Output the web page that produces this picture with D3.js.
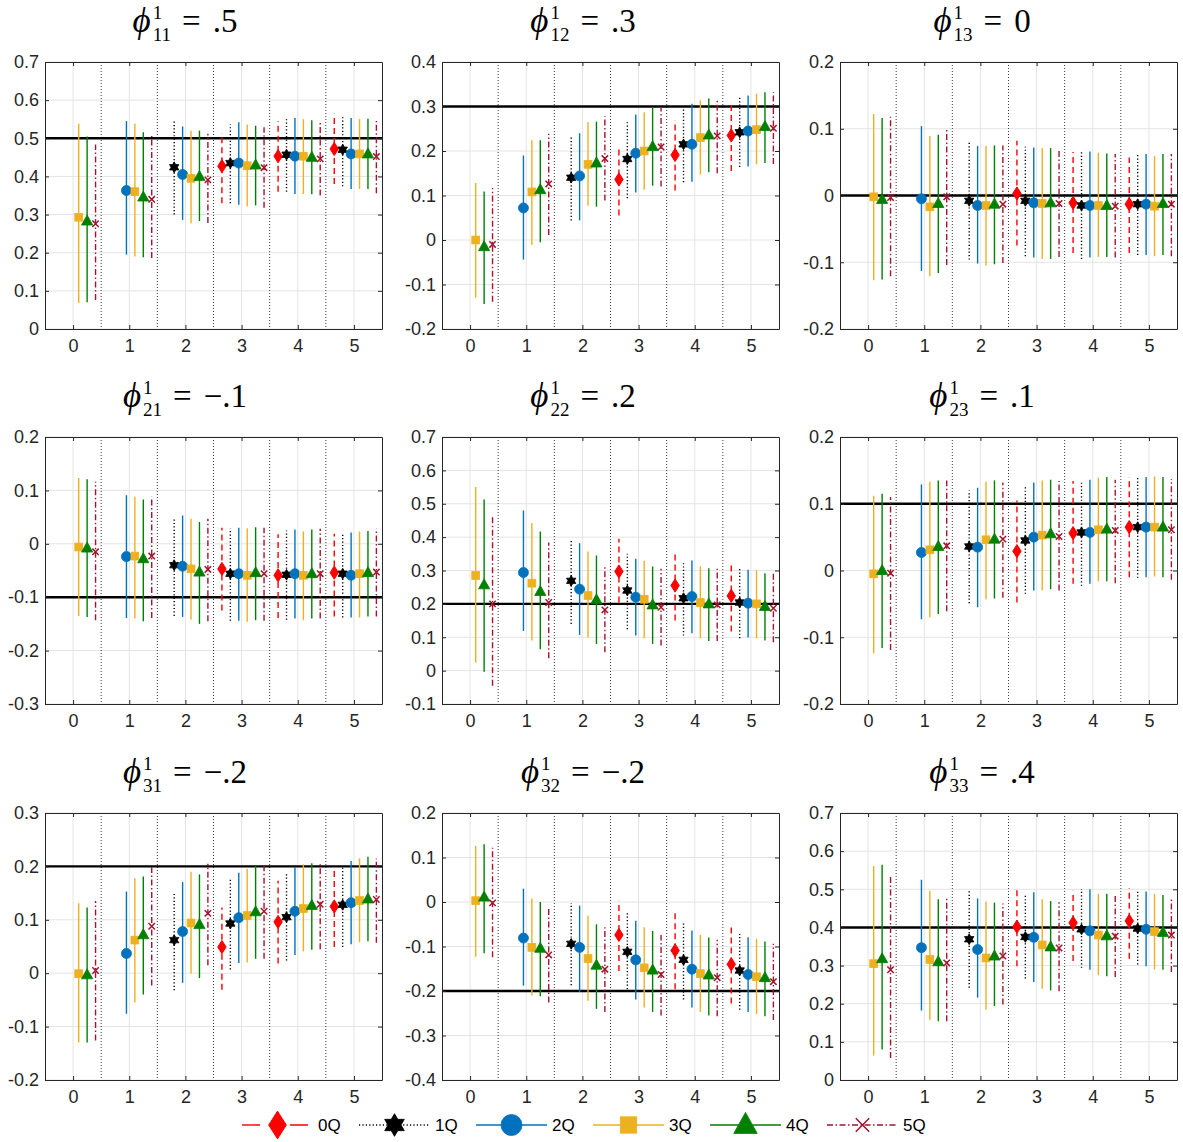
<!DOCTYPE html>
<html>
<head>
<meta charset="utf-8">
<script src="https://cdn.jsdelivr.net/npm/d3@7"></script>
<style>
body{margin:0;background:#ffffff;}
</style>
</head>
<body>
<script>
// series and horizons
var seriesNames=['0Q','1Q','2Q','3Q','4Q','5Q'];
var horizons=[0,1,2,3,4,5];

// panel titles / reference lines / y limits
var titleSubs=['11','12','13','21','22','23','31','32','33'];
var titleVals=['.5','.3','0','\u2212.1','.2','.1','\u2212.2','\u2212.2','.4'];
// black reference line as drawn in each panel (panel 31 draws it at +.2)
var trueVals=[0.5,0.3,0,-0.1,0.2,0.1,0.2,-0.2,0.4];
var yLimits=[[0,0.7],[-0.2,0.4],[-0.2,0.2],[-0.3,0.2],[-0.1,0.7],[-0.2,0.2],[-0.2,0.3],[-0.4,0.2],[0,0.7]];

// rows: [horizon, series, estimate, lower, upper]
var p11=[
[0,3,.293,.068,.538],[0,4,.283,.07,.505],[0,5,.276,.076,.484],
[1,2,.363,.195,.545],[1,3,.36,.19,.538],[1,4,.346,.188,.516],[1,5,.34,.186,.506],
[2,1,.424,.30,.545],[2,2,.405,.286,.531],[2,3,.395,.277,.52],[2,4,.40,.283,.52],[2,5,.391,.278,.512],
[3,0,.427,.33,.514],[3,1,.435,.33,.536],[3,2,.435,.326,.542],[3,3,.428,.322,.536],[3,4,.43,.324,.533],[3,5,.423,.318,.529],
[4,0,.453,.36,.545],[4,1,.457,.36,.55],[4,2,.453,.354,.553],[4,3,.453,.354,.55],[4,4,.45,.353,.547],[4,5,.446,.35,.542],
[5,0,.472,.38,.564],[5,1,.47,.374,.557],[5,2,.459,.367,.553],[5,3,.459,.367,.551],[5,4,.459,.367,.551],[5,5,.452,.356,.545]
];
var p12=[
[0,3,0,-.129,.128],[0,4,-.015,-.144,.109],[0,5,-.01,-.139,.117],
[1,2,.072,-.044,.19],[1,3,.108,-.011,.224],[1,4,.113,-.005,.224],[1,5,.126,.011,.239],
[2,1,.14,.044,.235],[2,2,.144,.044,.24],[2,3,.17,.077,.265],[2,4,.173,.075,.266],[2,5,.183,.089,.278],
[3,0,.136,.055,.212],[3,1,.182,.094,.265],[3,2,.195,.107,.282],[3,3,.2,.113,.287],[3,4,.21,.122,.298],[3,5,.209,.12,.298],
[4,0,.191,.111,.269],[4,1,.215,.13,.295],[4,2,.215,.131,.306],[4,3,.23,.147,.314],[4,4,.236,.152,.318],[4,5,.234,.15,.314],
[5,0,.235,.155,.312],[5,1,.242,.164,.323],[5,2,.245,.165,.325],[5,3,.248,.17,.329],[5,4,.255,.173,.332],[5,5,.251,.171,.332]
];
var p13=[
[0,3,-.002,-.127,.122],[0,4,-.006,-.126,.116],[0,5,-.003,-.121,.118],
[1,2,-.005,-.113,.104],[1,3,-.017,-.121,.089],[1,4,-.012,-.116,.091],[1,5,-.002,-.104,.098],
[2,1,-.008,-.096,.082],[2,2,-.015,-.102,.074],[2,3,-.015,-.105,.074],[2,4,-.013,-.103,.075],[2,5,-.013,-.101,.075],
[3,0,.003,-.075,.082],[3,1,-.008,-.091,.073],[3,2,-.011,-.093,.072],[3,3,-.012,-.095,.071],[3,4,-.011,-.095,.071],[3,5,-.012,-.092,.07],
[4,0,-.011,-.086,.065],[4,1,-.015,-.095,.065],[4,2,-.015,-.093,.066],[4,3,-.015,-.092,.064],[4,4,-.015,-.092,.063],[4,5,-.016,-.093,.062],
[5,0,-.013,-.086,.057],[5,1,-.013,-.089,.062],[5,2,-.013,-.089,.062],[5,3,-.016,-.091,.059],[5,4,-.012,-.089,.062],[5,5,-.013,-.091,.062]
];
var p21=[
[0,3,-.006,-.135,.123],[0,4,-.008,-.137,.121],[0,5,-.015,-.143,.116],
[1,2,-.024,-.139,.091],[1,3,-.023,-.14,.088],[1,4,-.028,-.145,.083],[1,5,-.023,-.139,.088],
[2,1,-.04,-.135,.048],[2,2,-.042,-.137,.053],[2,3,-.047,-.142,.047],[2,4,-.053,-.15,.041],[2,5,-.048,-.145,.047],
[3,0,-.047,-.125,.03],[3,1,-.056,-.144,.028],[3,2,-.056,-.144,.03],[3,3,-.059,-.146,.029],[3,4,-.054,-.143,.031],[3,5,-.056,-.144,.03],
[4,0,-.059,-.139,.018],[4,1,-.058,-.142,.025],[4,2,-.056,-.14,.027],[4,3,-.059,-.143,.023],[4,4,-.056,-.14,.027],[4,5,-.056,-.14,.028],
[5,0,-.054,-.136,.019],[5,1,-.056,-.138,.021],[5,2,-.059,-.138,.021],[5,3,-.056,-.138,.023],[5,4,-.054,-.136,.024],[5,5,-.053,-.136,.028]
];
var p22=[
[0,3,.285,.024,.55],[0,4,.257,-.003,.513],[0,5,.2,-.045,.467],
[1,2,.294,.119,.48],[1,3,.262,.09,.442],[1,4,.237,.064,.417],[1,5,.204,.037,.384],
[2,1,.269,.14,.394],[2,2,.244,.107,.382],[2,3,.225,.099,.357],[2,4,.212,.08,.345],[2,5,.182,.055,.317],
[3,0,.297,.204,.395],[3,1,.24,.124,.35],[3,2,.22,.105,.335],[3,3,.214,.097,.329],[3,4,.197,.08,.312],[3,5,.19,.075,.305],
[4,0,.255,.15,.355],[4,1,.217,.105,.322],[4,2,.222,.112,.33],[4,3,.204,.097,.312],[4,4,.2,.089,.307],[4,5,.197,.089,.305],
[5,0,.224,.117,.322],[5,1,.204,.097,.307],[5,2,.202,.099,.302],[5,3,.2,.097,.3],[5,4,.192,.09,.292],[5,5,.187,.085,.29]
];
var p23=[
[0,3,-.005,-.124,.112],[0,4,0,-.116,.115],[0,5,-.004,-.119,.11],
[1,2,.027,-.073,.129],[1,3,.031,-.07,.133],[1,4,.036,-.065,.135],[1,5,.037,-.061,.135],
[2,1,.036,-.049,.12],[2,2,.035,-.055,.124],[2,3,.046,-.043,.133],[2,4,.047,-.042,.135],[2,5,.047,-.041,.132],
[3,0,.029,-.048,.105],[3,1,.045,-.035,.125],[3,2,.05,-.03,.132],[3,3,.053,-.03,.135],[3,4,.055,-.028,.136],[3,5,.051,-.03,.134],
[4,0,.056,-.02,.134],[4,1,.057,-.023,.135],[4,2,.057,-.02,.136],[4,3,.061,-.016,.139],[4,4,.062,-.016,.14],[4,5,.06,-.019,.136],
[5,0,.065,-.01,.14],[5,1,.065,-.011,.14],[5,2,.065,-.01,.14],[5,3,.065,-.009,.141],[5,4,.065,-.01,.14],[5,5,.061,-.014,.137]
];
var p31=[
[0,3,-.001,-.13,.131],[0,4,-.003,-.13,.123],[0,5,.005,-.126,.135],
[1,2,.037,-.076,.153],[1,3,.062,-.055,.178],[1,4,.072,-.04,.181],[1,5,.088,-.023,.2],
[2,1,.062,-.032,.151],[2,2,.078,-.018,.171],[2,3,.094,-.001,.19],[2,4,.091,-.009,.185],[2,5,.112,.015,.205],
[3,0,.049,-.031,.123],[3,1,.093,.007,.177],[3,2,.104,.019,.188],[3,3,.108,.02,.195],[3,4,.115,.027,.201],[3,5,.116,.027,.201],
[4,0,.096,.018,.173],[4,1,.105,.024,.187],[4,2,.116,.034,.199],[4,3,.121,.041,.204],[4,4,.127,.044,.206],[4,5,.129,.045,.206],
[5,0,.125,.049,.199],[5,1,.128,.049,.198],[5,2,.132,.054,.21],[5,3,.136,.058,.215],[5,4,.139,.06,.218],[5,5,.138,.057,.215]
];
var p32=[
[0,3,.003,-.123,.126],[0,4,.011,-.115,.13],[0,5,-.002,-.124,.122],
[1,2,-.081,-.188,.03],[1,3,-.102,-.21,.008],[1,4,-.104,-.212,0],[1,5,-.119,-.226,-.016],
[2,1,-.094,-.187,-.002],[2,2,-.102,-.202,-.008],[2,3,-.127,-.222,-.031],[2,4,-.142,-.24,-.05],[2,5,-.151,-.247,-.057],
[3,0,-.074,-.155,.003],[3,1,-.112,-.196,-.023],[3,2,-.13,-.219,-.042],[3,3,-.148,-.237,-.057],[3,4,-.153,-.247,-.065],[3,5,-.163,-.255,-.074],
[4,0,-.109,-.196,-.025],[4,1,-.13,-.219,-.044],[4,2,-.151,-.237,-.064],[4,3,-.161,-.247,-.074],[4,4,-.164,-.255,-.08],[4,5,-.17,-.257,-.085],
[5,0,-.14,-.228,-.057],[5,1,-.154,-.242,-.072],[5,2,-.163,-.247,-.079],[5,3,-.168,-.252,-.083],[5,4,-.17,-.257,-.089],[5,5,-.179,-.265,-.094]
];
var p33=[
[0,3,.305,.064,.561],[0,4,.318,.08,.564],[0,5,.289,.058,.533],
[1,2,.347,.182,.525],[1,3,.316,.158,.496],[1,4,.31,.154,.474],[1,5,.307,.154,.478],
[2,1,.369,.242,.498],[2,2,.342,.216,.476],[2,3,.32,.184,.468],[2,4,.325,.194,.465],[2,5,.325,.198,.463],
[3,0,.402,.298,.501],[3,1,.375,.266,.488],[3,2,.374,.257,.492],[3,3,.354,.239,.474],[3,4,.349,.235,.469],[3,5,.346,.233,.466],
[4,0,.412,.312,.496],[4,1,.395,.294,.5],[4,2,.391,.289,.5],[4,3,.38,.275,.488],[4,4,.378,.272,.488],[4,5,.377,.27,.485],
[5,0,.417,.318,.503],[5,1,.397,.303,.494],[5,2,.395,.298,.494],[5,3,.389,.29,.488],[5,4,.387,.289,.485],[5,5,.38,.283,.475]
];
var panelData=[p11,p12,p13,p21,p22,p23,p31,p32,p33];

// styles
var colors=['#ff0000','#000000','#0072bd','#edb120','#008000','#a2142f'];
var dashes=['6,4','1.2,2.2',null,null,null,'6,2.5,1.5,2.5'];
var markers=['diamond','hexagram','circle','square','triangle','cross'];
var offsets=[-0.35,-0.2,-0.05,0.1,0.25,0.4];

var W=1183,H=1142;
var colLeft=[45,442,840];
var rowTop=[62,437,813];
var plotW=337,plotH=267;
var titleCx=[185,583,982];
var tickFont='"Liberation Sans",Arial,Helvetica,sans-serif';
var titleFont='"Liberation Serif","DejaVu Serif",serif';
var axisColor='#262626';

var svg=d3.select('body').append('svg')
    .attr('width',W)
    .attr('height',H)
    .style('display','block');

function hexagramPath(r){
    var pts=[];
    for(var k=0;k<12;k++){
        var a=-Math.PI/2+k*Math.PI/6;
        var rr=(k%2==0)?r:r/Math.sqrt(3);
        pts.push([rr*Math.cos(a),rr*Math.sin(a)]);
    }
    return 'M'+pts.map(function(p){return p[0].toFixed(2)+','+p[1].toFixed(2)}).join('L')+'Z';
}

// draw one marker at cx,cy; big=true for legend sizes
function drawMarker(g,type,color,cx,cy,big){
    var s=big?2.1:1;
    if(type=='diamond'){
        var w=4.2*s,h=6.6*s;
        g.append('path').attr('d','M'+cx+','+(cy-h)+'L'+(cx+w)+','+cy+'L'+cx+','+(cy+h)+'L'+(cx-w)+','+cy+'Z')
            .attr('fill',color).attr('stroke',color).attr('stroke-width',1);
    }
    else if(type=='hexagram'){
        g.append('path').attr('d',hexagramPath(5.4*s)).attr('transform','translate('+cx+','+cy+')')
            .attr('fill',color).attr('stroke',color).attr('stroke-width',0.8);
    }
    else if(type=='circle'){
        g.append('circle').attr('cx',cx).attr('cy',cy).attr('r',5*s)
            .attr('fill',color).attr('stroke',color).attr('stroke-width',0.8);
    }
    else if(type=='square'){
        var a=3.9*s;
        g.append('rect').attr('x',cx-a).attr('y',cy-a).attr('width',2*a).attr('height',2*a)
            .attr('fill',color).attr('stroke',color).attr('stroke-width',0.8);
    }
    else if(type=='triangle'){
        var tw=5.6*s,th=10*s;
        g.append('path').attr('d','M'+cx+','+(cy-th*0.6)+'L'+(cx+tw)+','+(cy+th*0.4)+'L'+(cx-tw)+','+(cy+th*0.4)+'Z')
            .attr('fill',color).attr('stroke',color).attr('stroke-width',0.8);
    }
    else{
        var c=3.2*s;
        g.append('path').attr('d','M'+(cx-c)+','+(cy-c)+'L'+(cx+c)+','+(cy+c)+'M'+(cx-c)+','+(cy+c)+'L'+(cx+c)+','+(cy-c))
            .attr('fill','none').attr('stroke',color).attr('stroke-width',1.5);
    }
}

function fmtTick(v){
    if(Math.abs(v)<1e-9) return '0';
    return d3.format('.1f')(v).replace('\u2212','-');
}

// title like  phi^1_{ij} = val , pieces placed one after another then centred
function drawTitle(i,cx,top){
    var tg=svg.append('g').attr('class','title');
    var base=top-30;
    var phi=tg.append('text').attr('x',0).attr('y',base)
        .style('font-family',titleFont).style('font-size','35px').style('font-style','italic')
        .text('\u03d5');
    var xs=phi.node().getComputedTextLength()+2;
    tg.append('text').attr('x',xs).attr('y',base-13)
        .style('font-family',titleFont).style('font-size','19px')
        .text('1');
    var sub=tg.append('text').attr('x',xs).attr('y',base+9)
        .style('font-family',titleFont).style('font-size','19px')
        .text(titleSubs[i]);
    var xe=xs+sub.node().getComputedTextLength()+11;
    var eq=tg.append('text').attr('x',xe).attr('y',base)
        .style('font-family',titleFont).style('font-size','33px')
        .text('=');
    var xv=xe+eq.node().getComputedTextLength()+12;
    tg.append('text').attr('x',xv).attr('y',base)
        .style('font-family',titleFont).style('font-size','33px')
        .text(titleVals[i]);
    var bb=tg.node().getBBox();
    tg.attr('transform','translate('+(cx-bb.x-bb.width/2)+',0)');
}

panelData.forEach(function(rows,i){
    var c=i%3,r=Math.floor(i/3);
    var g=svg.append('g').attr('transform','translate('+colLeft[c]+','+rowTop[r]+')');
    var x=d3.scaleLinear().domain([-0.5,5.5]).range([0,plotW]);
    var y=d3.scaleLinear().domain(yLimits[i]).range([plotH,0]);
    var lo=Math.round(yLimits[i][0]*10),hi=Math.round(yLimits[i][1]*10);
    var yTicks=d3.range(lo,hi+1).map(function(v){return v/10;});

    // grid
    g.append('g').selectAll('line').data(yTicks).enter().append('line')
        .attr('x1',0).attr('x2',plotW)
        .attr('y1',function(d){return y(d)}).attr('y2',function(d){return y(d)})
        .attr('stroke','#e4e4e4').attr('stroke-width',1);
    g.append('g').selectAll('line').data(horizons).enter().append('line')
        .attr('x1',function(d){return x(d)}).attr('x2',function(d){return x(d)})
        .attr('y1',0).attr('y2',plotH)
        .attr('stroke','#e4e4e4').attr('stroke-width',1);

    // dotted separators between horizons
    g.append('g').selectAll('line').data(horizons.slice(0,5)).enter().append('line')
        .attr('x1',function(d){return x(d+0.5)}).attr('x2',function(d){return x(d+0.5)})
        .attr('y1',0).attr('y2',plotH)
        .attr('stroke','#3a3a3a').attr('stroke-width',1).attr('stroke-dasharray','1,2');

    // reference value
    g.append('line')
        .attr('x1',0).attr('x2',plotW)
        .attr('y1',y(trueVals[i])).attr('y2',y(trueVals[i]))
        .attr('stroke','#000').attr('stroke-width',2.4);

    // error bars + markers, series by series
    seriesNames.forEach(function(name,q){
        var sr=rows.filter(function(d){return d[1]==q;});
        var sg=g.append('g').attr('class','series-'+name);
        sr.forEach(function(d){
            var xx=x(d[0]+offsets[q]);
            var bar=sg.append('line')
                .attr('x1',xx).attr('x2',xx)
                .attr('y1',y(d[3])).attr('y2',y(d[4]))
                .attr('stroke',colors[q]).attr('stroke-width',1.4);
            if(dashes[q]) bar.attr('stroke-dasharray',dashes[q]);
        });
        sr.forEach(function(d){
            drawMarker(sg,markers[q],colors[q],x(d[0]+offsets[q]),y(d[2]),false);
        });
    });

    // axes (ticks inside, box)
    var ax=g.append('g').attr('class','axes');
    ax.append('g').call(d3.axisLeft(y).tickValues(yTicks).tickFormat(fmtTick).tickSizeInner(-4).tickSizeOuter(0).tickPadding(6));
    ax.append('g').attr('transform','translate('+plotW+',0)')
        .call(d3.axisRight(y).tickValues(yTicks).tickFormat('').tickSizeInner(-4).tickSizeOuter(0));
    ax.append('g').attr('transform','translate(0,'+plotH+')')
        .call(d3.axisBottom(x).tickValues(horizons).tickFormat(d3.format('d')).tickSizeInner(-4).tickSizeOuter(0).tickPadding(10));
    ax.append('g')
        .call(d3.axisTop(x).tickValues(horizons).tickFormat('').tickSizeInner(-4).tickSizeOuter(0));
    ax.selectAll('path.domain').attr('stroke',axisColor).attr('stroke-width',1);
    ax.selectAll('.tick line').attr('stroke',axisColor);
    ax.selectAll('.tick text')
        .attr('fill',axisColor)
        .style('font-family',tickFont)
        .style('font-size','18px');

    drawTitle(i,titleCx[c],rowTop[r]);
});

// legend
var legY=1125,legX0=242,legStep=117,legLen=71;
var leg=svg.append('g').attr('class','legend');
seriesNames.forEach(function(name,q){
    var lx=legX0+q*legStep;
    var ln=leg.append('line')
        .attr('x1',lx).attr('x2',lx+legLen)
        .attr('y1',legY).attr('y2',legY)
        .attr('stroke',colors[q]).attr('stroke-width',1.4);
    if(dashes[q]) ln.attr('stroke-dasharray',q==0?'18,30':dashes[q]);
    drawMarker(leg,markers[q],colors[q],lx+legLen/2,legY,true);
    leg.append('text')
        .attr('x',lx+legLen+5).attr('y',legY+6)
        .style('font-family',tickFont)
        .style('font-size','17px')
        .attr('fill','#000')
        .text(name);
});
</script>
</body>
</html>
